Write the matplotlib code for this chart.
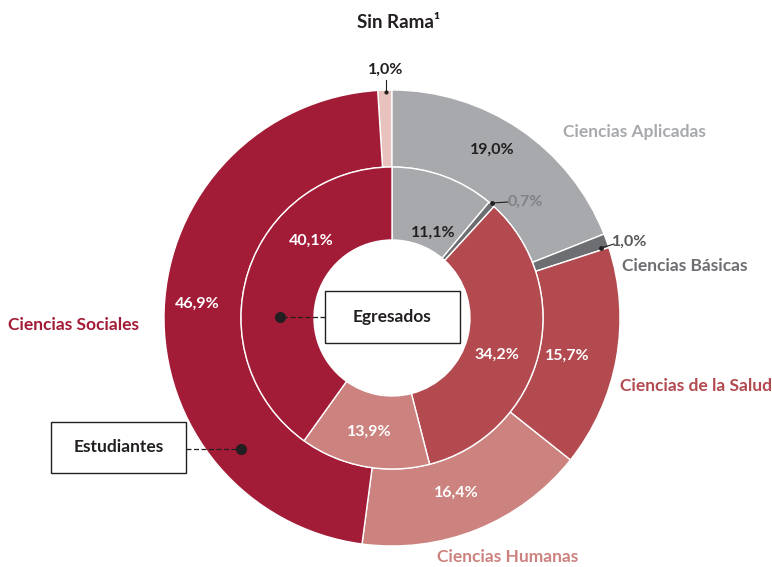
import matplotlib.pyplot as plt
from matplotlib.patches import Rectangle

plt.rcParams['font.family'] = ['Lato', 'DejaVu Sans']

# outer ring: Estudiantes (starts with Sin Rama, just left of 12 o'clock)
outer_names = ["Sin Rama", "Ciencias Aplicadas", "Ciencias Básicas",
               "Ciencias de la Salud", "Ciencias Humanas", "Ciencias Sociales"]
outer_values = [1.0, 19.0, 1.0, 15.7, 16.4, 46.9]
outer_colors = ["#E8C3BD", "#A7A9AC", "#6D6E71", "#B24A50", "#CC827E", "#A31C37"]

# inner ring: Egresados (no Sin Rama)
inner_values = [11.1, 0.7, 34.2, 13.9, 40.1]
inner_colors = ["#A7A9AC", "#6D6E71", "#B24A50", "#CC827E", "#A31C37"]

W, H = 772, 567
CX, CY = 392, 318  # donut centre in pixel coords
R_OUT, R_MID, R_IN = 228, 151, 78


def px(x, y):
    # pixel coords (y down) -> data coords (centre at 0, y up)
    return x - CX, CY - y


fig = plt.figure(figsize=(W / 100, H / 100), dpi=100)
ax = fig.add_axes([0, 0, 1, 1])
ax.set_aspect("equal")
ax.axis("off")

ax.pie(outer_values, colors=outer_colors, radius=R_OUT, counterclock=False,
       startangle=90 + outer_values[0] * 3.6,
       wedgeprops=dict(width=R_OUT - R_MID, edgecolor="white", linewidth=1))
ax.pie(inner_values, colors=inner_colors, radius=R_MID, counterclock=False,
       startangle=90,
       wedgeprops=dict(width=R_MID - R_IN, edgecolor="white", linewidth=1))
ax.set_xlim(-CX, W - CX)
ax.set_ylim(CY - H, CY)


def label(x, y, s, color, size=12.5):
    ax.text(*px(x, y), s, color=color, fontsize=size, fontweight="bold",
            ha="center", va="center")


def pct(v):
    return f"{v:.1f}".replace(".", ",") + "%"


# category names
label(399, 23, "Sin Rama¹", "#231F20", 13.5)
label(634, 132, outer_names[1], "#A7A9AC")
label(685, 266, outer_names[2], "#6D6E71")
label(696, 386, outer_names[3], "#B24A50")
label(508, 557, outer_names[4], "#CC827E")
label(74, 325, outer_names[5], "#A31C37")

# outer values
label(386, 70, pct(outer_values[0]), "#231F20", 11.5)
ax.plot(*zip(px(386, 80), px(386, 92)), color="#231F20", lw=0.8)
ax.plot(*px(386, 92), "o", color="#231F20", ms=2)
label(492, 150, pct(outer_values[1]), "#231F20", 11.5)
label(630, 242, pct(outer_values[2]), "#58595B", 11.5)
ax.plot(*zip(px(601, 248), px(614, 244)), color="#231F20", lw=0.8)
ax.plot(*px(601, 248), "o", color="#231F20", ms=2.5)
label(567, 356, pct(outer_values[3]), "white", 11.5)
label(456, 493, pct(outer_values[4]), "white", 11.5)
label(197, 304, pct(outer_values[5]), "white", 11.5)

# inner values
label(433, 233, pct(inner_values[0]), "#231F20", 11.5)
label(525, 202, pct(inner_values[1]), "#808285", 11.5)
ax.plot(*zip(px(492, 203), px(508, 202)), color="#231F20", lw=0.8)
ax.plot(*px(492, 203), "o", color="#231F20", ms=2.5)
label(497, 355, pct(inner_values[2]), "white", 11.5)
label(369, 432, pct(inner_values[3]), "white", 11.5)
label(311, 241, pct(inner_values[4]), "white", 11.5)

# ring name boxes
for (x0, y0, x1, y1), name, (dx, dy) in [
        ((325, 291, 460, 343), "Egresados", (280, 317)),
        ((51, 422, 186, 473), "Estudiantes", (241, 449))]:
    bx, by = px(x0, y1)
    ax.add_patch(Rectangle((bx, by), x1 - x0, y1 - y0, facecolor="white",
                           edgecolor="#231F20", lw=1, zorder=3))
    ax.text(*px((x0 + x1) / 2, (y0 + y1) / 2), name, color="#231F20",
            fontsize=12.5, fontweight="bold", ha="center", va="center", zorder=4)
    ex = x0 if dx < x0 else x1
    ax.plot(*zip(px(ex, dy), px(dx, dy)), color="#231F20", lw=0.9,
            ls=(0, (4, 2)), zorder=3)
    ax.plot(*px(dx, dy), "o", color="#231F20", ms=7, zorder=4)

fig.savefig("out.png", dpi=100)
